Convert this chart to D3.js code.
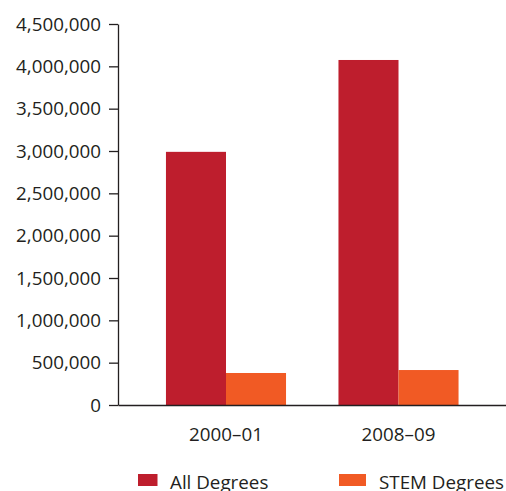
<!DOCTYPE html>
<html>
<head>
<meta charset="utf-8">
<script src="https://cdn.jsdelivr.net/npm/d3@7"></script>
<style>
  body { margin: 0; background: #fff; }
  text { font-family: "Open Sans", "Noto Sans", sans-serif; fill: #231f20; }
</style>
</head>
<body>
<svg width="506" height="491"></svg>
<script>
var categories = ["2000\u201301", "2008\u201309"];
var seriesNames = ["All Degrees", "STEM Degrees"];
var allDegrees = [2990000, 4075000];
var stemDegrees = [378000, 413000];
var yTicks = [0, 500000, 1000000, 1500000, 2000000, 2500000, 3000000, 3500000, 4000000, 4500000];
var colors = ["#be1e2d", "#f15a24"];

var svg = d3.select("svg"),
    plotLeft = 118, plotTop = 24, plotBottom = 405, plotRight = 506.5,
    fontSize = 18.8;

var x = d3.scaleBand()
    .domain(categories)
    .range([plotLeft, plotRight])
    .paddingInner(0.304)
    .paddingOuter(0.278);

var x1 = d3.scaleBand()
    .domain(seriesNames)
    .range([0, x.bandwidth()]);

var y = d3.scaleLinear()
    .domain([0, 4500000])
    .range([plotBottom, plotTop]);

var data = categories.map(function(c, i) {
  return { cat: c, values: [allDegrees[i], stemDegrees[i]] };
});

var group = svg.selectAll("g.grp")
  .data(data)
  .enter().append("g")
    .attr("class", "grp")
    .attr("transform", function(d) { return "translate(" + x(d.cat) + ",0)"; });

group.selectAll("rect")
  .data(function(d) { return d.values.map(function(v, i) { return { name: seriesNames[i], value: v, i: i }; }); })
  .enter().append("rect")
    .attr("x", function(d) { return x1(d.name); })
    .attr("y", function(d) { return y(d.value); })
    .attr("width", x1.bandwidth())
    .attr("height", function(d) { return plotBottom - y(d.value); })
    .attr("fill", function(d) { return colors[d.i]; });

// y axis
var yAxis = svg.append("g")
    .attr("transform", "translate(" + plotLeft + ",0)")
    .call(d3.axisLeft(y).tickValues(yTicks).tickFormat(d3.format(",")).tickSize(9).tickPadding(8).tickSizeOuter(0));
yAxis.select(".domain").attr("stroke", "#231f20").attr("stroke-width", 1.3);
yAxis.selectAll(".tick line").attr("stroke", "#231f20").attr("stroke-width", 1.3);
yAxis.selectAll("text").attr("font-size", fontSize).attr("font-family", null).attr("fill", null);

// x axis
var xAxis = svg.append("g")
    .attr("transform", "translate(0," + plotBottom + ")")
    .call(d3.axisBottom(x).tickSize(0).tickPadding(23).tickSizeOuter(0));
xAxis.select(".domain").attr("stroke", "#231f20").attr("stroke-width", 1.3);
xAxis.selectAll("text").attr("font-size", fontSize).attr("font-family", null).attr("fill", null);

// legend
var legendX = [138, 339];
var legend = svg.selectAll("g.legend")
  .data(seriesNames)
  .enter().append("g")
    .attr("class", "legend")
    .attr("transform", function(d, i) { return "translate(" + legendX[i] + ",474)"; });

legend.append("rect")
    .attr("width", function(d, i) { return i === 0 ? 19.5 : 27; })
    .attr("height", 12)
    .attr("fill", function(d, i) { return colors[i]; });

legend.append("text")
    .attr("x", function(d, i) { return i === 0 ? 32 : 40; })
    .attr("y", 15)
    .attr("font-size", fontSize)
    .text(function(d) { return d; });
</script>
</body>
</html>
